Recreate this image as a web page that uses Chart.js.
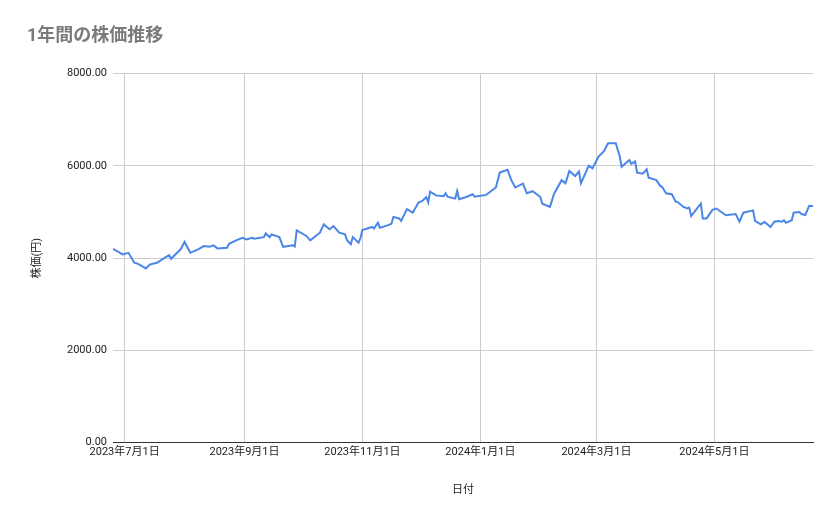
<!DOCTYPE html>
<html><head><meta charset="utf-8">
<script src="https://cdn.jsdelivr.net/npm/chart.js@4"></script>
<style>html,body{margin:0;padding:0;background:#fff}#w{width:839px;height:519px}</style>
</head><body><div id="w"><canvas id="c"></canvas></div>
<script>
const dates = ["2023-06-25","2023-06-30","2023-07-03","2023-07-06","2023-07-08","2023-07-12","2023-07-14","2023-07-18","2023-07-21","2023-07-24","2023-07-25","2023-07-30","2023-08-01","2023-08-04","2023-08-08","2023-08-11","2023-08-14","2023-08-16","2023-08-18","2023-08-23","2023-08-24","2023-08-28","2023-08-31","2023-09-02","2023-09-05","2023-09-06","2023-09-11","2023-09-12","2023-09-14","2023-09-15","2023-09-19","2023-09-21","2023-09-26","2023-09-27","2023-09-28","2023-10-03","2023-10-05","2023-10-10","2023-10-12","2023-10-15","2023-10-17","2023-10-20","2023-10-23","2023-10-24","2023-10-26","2023-10-27","2023-10-30","2023-10-31","2023-11-01","2023-11-06","2023-11-07","2023-11-09","2023-11-10","2023-11-14","2023-11-16","2023-11-17","2023-11-20","2023-11-21","2023-11-24","2023-11-27","2023-11-30","2023-12-02","2023-12-04","2023-12-05","2023-12-06","2023-12-09","2023-12-13","2023-12-14","2023-12-15","2023-12-19","2023-12-20","2023-12-21","2023-12-25","2023-12-28","2023-12-29","2024-01-04","2024-01-09","2024-01-11","2024-01-15","2024-01-17","2024-01-19","2024-01-23","2024-01-25","2024-01-28","2024-02-01","2024-02-02","2024-02-06","2024-02-08","2024-02-12","2024-02-14","2024-02-16","2024-02-19","2024-02-21","2024-02-22","2024-02-26","2024-02-28","2024-03-01","2024-03-02","2024-03-05","2024-03-07","2024-03-11","2024-03-13","2024-03-14","2024-03-18","2024-03-19","2024-03-21","2024-03-22","2024-03-25","2024-03-27","2024-03-28","2024-04-01","2024-04-03","2024-04-04","2024-04-06","2024-04-09","2024-04-11","2024-04-12","2024-04-15","2024-04-17","2024-04-18","2024-04-19","2024-04-24","2024-04-25","2024-04-27","2024-04-30","2024-05-02","2024-05-07","2024-05-12","2024-05-14","2024-05-16","2024-05-21","2024-05-22","2024-05-25","2024-05-27","2024-05-30","2024-06-01","2024-06-03","2024-06-05","2024-06-06","2024-06-07","2024-06-10","2024-06-11","2024-06-14","2024-06-15","2024-06-17","2024-06-19","2024-06-21"];
const prices = [4200,4080,4115,3900,3875,3775,3860,3905,3990,4065,3985,4190,4350,4115,4190,4260,4245,4275,4210,4225,4310,4390,4440,4405,4440,4420,4455,4535,4455,4515,4455,4245,4280,4250,4600,4480,4385,4550,4730,4625,4695,4550,4515,4390,4300,4455,4335,4440,4610,4675,4640,4770,4660,4710,4745,4890,4860,4805,5060,4985,5205,5240,5325,5210,5440,5360,5340,5405,5330,5290,5455,5275,5330,5385,5330,5370,5530,5855,5915,5690,5530,5615,5405,5450,5325,5180,5110,5385,5690,5620,5890,5780,5875,5620,6000,5945,6110,6195,6325,6490,6490,6215,5980,6125,6045,6095,5855,5830,5925,5745,5690,5565,5540,5405,5385,5225,5215,5110,5075,5095,4915,5180,4860,4860,5045,5075,4930,4955,4790,4985,5035,4805,4730,4785,4675,4790,4805,4790,4820,4765,4820,4985,5000,4955,4935,5130,5130];
const xTickDates = ["2023-07-01","2023-09-01","2023-11-01","2024-01-01","2024-03-01","2024-05-01"];
const yTicks = [0,2000,4000,6000,8000];
const chartTitle = "1年間の株価推移", xTitle = "日付", yTitle = "株価(円)";

const DAY = 86400000;
const toDay = s => { const [y,m,d] = s.split("-").map(Number); return Date.UTC(y,m-1,d)/DAY; };
const fmt = v => { const d = new Date(v*DAY); return d.getUTCFullYear()+"年"+(d.getUTCMonth()+1)+"月"+d.getUTCDate()+"日"; };
const pts = dates.map((d,i)=>({x:toDay(d), y:prices[i]}));
const font = {family:"Roboto, 'Noto Sans CJK JP', sans-serif", size:11};

new Chart(document.getElementById("c"), {
  type:"line",
  data:{datasets:[{data:pts, borderColor:"#4a86e8", borderWidth:2, pointRadius:0, tension:0, fill:false}]},
  options:{
    responsive:true, maintainAspectRatio:false, animation:false,
    layout:{padding:{left:27,right:26,top:0,bottom:18}},
    plugins:{legend:{display:false}, tooltip:{enabled:false},
      title:{display:true, text:chartTitle, align:"start", color:"#7a7a7a",
        font:{family:"Roboto, 'Noto Sans CJK JP', sans-serif", size:18, weight:"bold"}, padding:{top:26,bottom:26}}},
    scales:{
      x:{type:"linear", min:toDay(dates[0]), max:toDay(dates[dates.length-1]),
        afterBuildTicks:s=>{s.ticks = xTickDates.map(d=>({value:toDay(d)}));},
        ticks:{callback:v=>fmt(v), maxRotation:0, autoSkip:false, color:"#222", font},
        grid:{color:"#cccccc", drawTicks:false}, border:{color:"#333"},
        title:{display:true, text:xTitle, color:"#222", font, padding:{top:22}}},
      y:{min:0, max:8000,
        afterBuildTicks:s=>{s.ticks = yTicks.map(v=>({value:v}));},
        afterFit:s=>{s.width = 86;},
        ticks:{callback:v=>v.toFixed(2), color:"#222", font, padding:6},
        grid:{color:"#cccccc", drawTicks:false}, border:{display:false},
        title:{display:true, text:yTitle, color:"#222", font}}
    }
  }
});
</script></body></html>
